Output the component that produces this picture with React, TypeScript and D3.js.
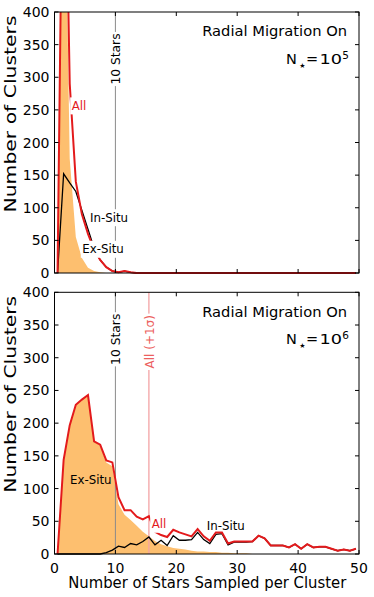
import React, { useEffect, useRef } from 'react';
import * as d3 from 'd3';

// ---------- data ----------
const BIN_CENTERS = [
  0.5, 1.5, 2.5, 3.5, 4.5, 5.5, 6.5, 7.5, 8.5, 9.5,
  10.5, 11.5, 12.5, 13.5, 14.5, 15.5, 16.5, 17.5, 18.5, 19.5,
  20.5, 21.5, 22.5, 23.5, 24.5, 25.5, 26.5, 27.5, 28.5, 29.5,
  30.5, 31.5, 32.5, 33.5, 34.5, 35.5, 36.5, 37.5, 38.5, 39.5,
  40.5, 41.5, 42.5, 43.5, 44.5, 45.5, 46.5, 47.5, 48.5, 49.5,
];
const X_TICKS = [0, 10, 20, 30, 40, 50];
const Y_TICKS = [0, 50, 100, 150, 200, 250, 300, 350, 400];

// Panel 1: N = 1e5
const TOP_ALL = [
  0, 800, 290, 140, 90, 60, 36, 20, 9, 3,
  1, 3, 1, 0, 0, 0, 0, 0, 0, 0,
  0, 0, 0, 0, 0, 0, 0, 0, 0, 0,
  0, 0, 0, 0, 0, 0, 0, 0, 0, 0,
  0, 0, 0, 0, 0, 0, 0, 0, 0, 0,
];
const TOP_IN = [
  0, 152, 138, 125, 96, 67, 38, 20, 9, 3,
  1, 3, 1, 0, 0, 0, 0, 0, 0, 0,
  0, 0, 0, 0, 0, 0, 0, 0, 0, 0,
  0, 0, 0, 0, 0, 0, 0, 0, 0, 0,
  0, 0, 0, 0, 0, 0, 0, 0, 0, 0,
];
const TOP_EX = [
  0, 750, 175, 55, 23, 8, 3, 1, 0, 0,
  0, 0, 0, 0, 0, 0, 0, 0, 0, 0,
  0, 0, 0, 0, 0, 0, 0, 0, 0, 0,
  0, 0, 0, 0, 0, 0, 0, 0, 0, 0,
  0, 0, 0, 0, 0, 0, 0, 0, 0, 0,
];

// Panel 2: N = 1e6
const BOT_ALL = [
  0, 144, 197, 228, 236, 243, 172, 167, 143, 140,
  87, 67, 67, 57, 53, 58, 34, 29, 26, 37,
  33, 30, 27, 38, 27, 20, 33, 33, 16, 19,
  19, 19, 19, 28, 24, 13, 13, 13, 10, 15,
  8, 15, 10, 11, 11, 8, 5, 7, 5, 8,
];
const BOT_IN = [
  0, 0, 0, 0, 0, 0, 0, 0, 2, 6,
  12, 10, 16, 14, 19, 26, 14, 21, 13, 28,
  21, 21, 22, 33, 22, 16, 30, 31, 14, 18,
  18, 18, 19, 28, 24, 13, 13, 13, 10, 15,
  8, 15, 10, 11, 11, 8, 5, 7, 5, 8,
];
const BOT_EX = [
  0, 144, 197, 228, 236, 243, 172, 166, 140, 134,
  76, 60, 52, 43, 34, 27, 20, 15, 12, 9,
  8, 7, 5, 4, 4, 3, 3, 2, 2, 1,
  1, 1, 0, 0, 0, 0, 0, 0, 0, 0,
  0, 0, 0, 0, 0, 0, 0, 0, 0, 0,
];

const TEN_STARS = 10;
const ALL_SIGMA = 15.5;

// ---------- style ----------
const FONT = '"DejaVu Sans", "Liberation Sans", sans-serif';
const RED = '#e31a1c';
const ORANGE = '#fdbf6f';
const GREY = '#8a8a8a';
const PINK_LINE = '#f3a3a4';
const PINK_TEXT = '#ec5f60';

const W = 374;
const H = 597;
const LEFT = 54.5;
const RIGHT = 359;

type Label = { text: string; x: number; y: number; color: string; box: boolean };

const PANELS = [
  {
    top: 12,
    bottom: 273,
    all: TOP_ALL,
    ins: TOP_IN,
    ex: TOP_EX,
    exp: '5',
    sigma: false,
    xLabels: false,
    labels: [
      { text: 'All', x: 2.82, y: 250, color: RED, box: true },
      { text: 'In-Situ', x: 5.83, y: 78.6, color: '#000', box: true },
      { text: 'Ex-Situ', x: 4.56, y: 30.2, color: '#000', box: true },
    ] as Label[],
  },
  {
    top: 292.3,
    bottom: 554,
    all: BOT_ALL,
    ins: BOT_IN,
    ex: BOT_EX,
    exp: '6',
    sigma: true,
    xLabels: true,
    labels: [
      { text: 'Ex-Situ', x: 2.55, y: 107, color: '#000', box: false },
      { text: 'All', x: 15.96, y: 39.3, color: RED, box: true },
      { text: 'In-Situ', x: 25, y: 36.7, color: '#000', box: false },
    ] as Label[],
  },
];

function addBoxedText(
  parent: d3.Selection<SVGGElement, unknown, null, undefined>,
  tx: number,
  ty: number,
  rot: number,
  text: string,
  color: string,
  size: number,
  anchor: string,
  box: boolean,
  baseline = 'alphabetic'
) {
  const g = parent.append('g').attr('transform', `translate(${tx},${ty}) rotate(${rot})`);
  const rect = g.append('rect');
  const t = g
    .append('text')
    .attr('x', 0)
    .attr('y', 0)
    .attr('fill', color)
    .attr('font-family', FONT)
    .attr('font-size', size)
    .attr('text-anchor', anchor)
    .attr('dominant-baseline', baseline)
    .text(text);
  if (box) {
    const bb = (t.node() as SVGTextElement).getBBox();
    const pad = 1.5;
    rect
      .attr('x', bb.x - pad)
      .attr('y', bb.y - pad)
      .attr('width', bb.width + pad * 2)
      .attr('height', bb.height + pad * 2)
      .attr('fill', '#fff');
  } else {
    rect.remove();
  }
  return g;
}

export default function App() {
  const ref = useRef<SVGSVGElement>(null);

  useEffect(() => {
    const svg = d3.select(ref.current);
    svg.selectAll('*').remove();
    const defs = svg.append('defs');
    const x = d3.scaleLinear().domain([0, 50]).range([LEFT, RIGHT]);

    PANELS.forEach((p, pi) => {
      const y = d3.scaleLinear().domain([0, 400]).range([p.bottom, p.top]);
      const clipId = `clip-${pi}`;
      defs
        .append('clipPath')
        .attr('id', clipId)
        .append('rect')
        .attr('x', LEFT)
        .attr('y', p.top)
        .attr('width', RIGHT - LEFT)
        .attr('height', p.bottom - p.top + 1);

      const g = svg.append('g');
      const plot = g.append('g').attr('clip-path', `url(#${clipId})`);

      const area = d3
        .area<number>()
        .x((_, i) => x(BIN_CENTERS[i]))
        .y0(y(0))
        .y1((d) => y(d));
      plot.append('path').datum(p.ex).attr('d', area).attr('fill', ORANGE);

      plot
        .append('line')
        .attr('x1', x(TEN_STARS))
        .attr('x2', x(TEN_STARS))
        .attr('y1', y(0))
        .attr('y2', y(400))
        .attr('stroke', GREY)
        .attr('stroke-width', 1);

      if (p.sigma) {
        plot
          .append('line')
          .attr('x1', x(ALL_SIGMA))
          .attr('x2', x(ALL_SIGMA))
          .attr('y1', y(0))
          .attr('y2', y(400))
          .attr('stroke', PINK_LINE)
          .attr('stroke-width', 1.3);
      }

      const line = d3
        .line<number>()
        .x((_, i) => x(BIN_CENTERS[i]))
        .y((d) => y(d));
      plot
        .append('path')
        .datum(p.ins)
        .attr('d', line)
        .attr('fill', 'none')
        .attr('stroke', '#000')
        .attr('stroke-width', 1.3)
        .attr('stroke-linejoin', 'miter');
      plot
        .append('path')
        .datum(p.all)
        .attr('d', line)
        .attr('fill', 'none')
        .attr('stroke', RED)
        .attr('stroke-width', 2)
        .attr('stroke-linejoin', 'miter');

      // vertical annotations
      addBoxedText(g, x(TEN_STARS) + 1, p.top + 47, -90, '10 Stars', '#000', 12.3, 'middle', true, 'central');
      if (p.sigma) {
        addBoxedText(g, x(ALL_SIGMA) + 0.8, p.top + 49.5, -90, 'All (+1σ)', PINK_TEXT, 12, 'middle', true, 'central');
      }

      // series labels
      p.labels.forEach((l) => {
        addBoxedText(g, x(l.x), y(l.y), 0, l.text, l.color, 11.8, 'start', l.box);
      });

      // titles
      g.append('text')
        .attr('x', 347)
        .attr('y', p.top + 24.2)
        .attr('text-anchor', 'end')
        .attr('font-family', FONT)
        .attr('font-size', 14.7)
        .attr('fill', '#000')
        .text('Radial Migration On');
      const nb = p.top + 51.5;
      g.append('text')
        .attr('x', 286)
        .attr('y', nb)
        .attr('font-family', FONT)
        .attr('font-size', 14.5)
        .text('N');
      g.append('text')
        .attr('x', 302.5)
        .attr('y', nb + 4.5)
        .attr('text-anchor', 'middle')
        .attr('font-family', FONT)
        .attr('font-size', 7)
        .text('★');
      g.append('text')
        .attr('x', 306)
        .attr('y', nb)
        .attr('font-family', FONT)
        .attr('font-size', 14.5)
        .text('=');
      g.append('text')
        .attr('x', 319.5)
        .attr('y', nb)
        .attr('font-family', FONT)
        .attr('font-size', 14.5)
        .attr('textLength', 22.5)
        .attr('lengthAdjust', 'spacingAndGlyphs')
        .text('10');
      g.append('text')
        .attr('x', 342.3)
        .attr('y', nb - 5)
        .attr('font-family', FONT)
        .attr('font-size', 10.5)
        .text(p.exp);

      // frame
      g.append('rect')
        .attr('x', LEFT)
        .attr('y', p.top)
        .attr('width', RIGHT - LEFT)
        .attr('height', p.bottom - p.top)
        .attr('fill', 'none')
        .attr('stroke', '#000')
        .attr('stroke-width', 1);

      // ticks
      const tk = 4;
      Y_TICKS.forEach((v) => {
        const yy = y(v);
        g.append('line').attr('x1', LEFT).attr('x2', LEFT + tk).attr('y1', yy).attr('y2', yy).attr('stroke', '#000');
        g.append('line').attr('x1', RIGHT).attr('x2', RIGHT - tk).attr('y1', yy).attr('y2', yy).attr('stroke', '#000');
        g.append('text')
          .attr('x', LEFT - 5)
          .attr('y', yy)
          .attr('text-anchor', 'end')
          .attr('dominant-baseline', 'central')
          .attr('font-family', FONT)
          .attr('font-size', 14)
          .text(String(v));
      });
      X_TICKS.forEach((v) => {
        const xx = x(v);
        g.append('line').attr('x1', xx).attr('x2', xx).attr('y1', p.bottom).attr('y2', p.bottom - tk).attr('stroke', '#000');
        g.append('line').attr('x1', xx).attr('x2', xx).attr('y1', p.top).attr('y2', p.top + tk).attr('stroke', '#000');
        if (p.xLabels) {
          g.append('text')
            .attr('x', xx)
            .attr('y', p.bottom + 18.5)
            .attr('text-anchor', 'middle')
            .attr('font-family', FONT)
            .attr('font-size', 14)
            .text(String(v));
        }
      });

      // y label
      g.append('text')
        .attr('transform', `translate(15.5, ${p.top + 102}) rotate(-90)`)
        .attr('text-anchor', 'middle')
        .attr('font-family', FONT)
        .attr('font-size', 16)
        .attr('textLength', 197)
        .attr('lengthAdjust', 'spacingAndGlyphs')
        .text('Number of Clusters');

      if (p.xLabels) {
        g.append('text')
          .attr('x', (LEFT + RIGHT) / 2 + 0.5)
          .attr('y', 588)
          .attr('text-anchor', 'middle')
          .attr('font-family', FONT)
          .attr('font-size', 15)
          .attr('textLength', 278)
          .attr('lengthAdjust', 'spacingAndGlyphs')
          .text('Number of Stars Sampled per Cluster');
      }
    });
  }, []);

  return (
    <svg
      ref={ref}
      width={W}
      height={H}
      style={{ position: 'absolute', left: 0, top: 0, background: '#fff' }}
    />
  );
}
